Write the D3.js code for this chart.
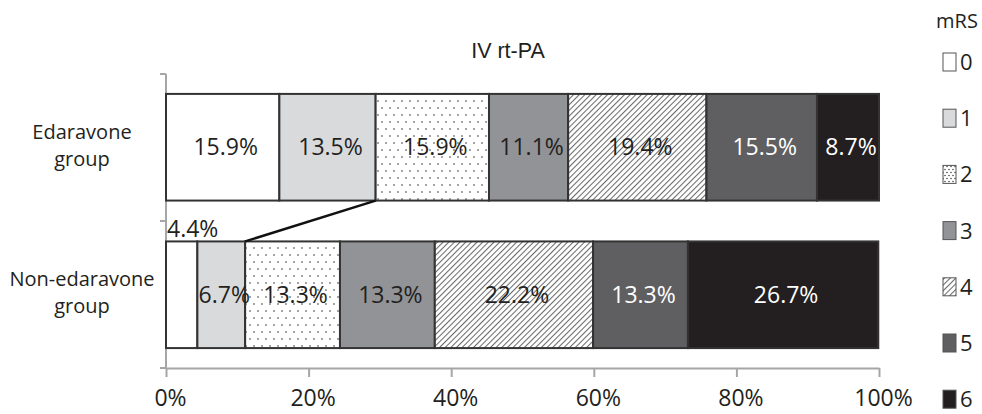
<!DOCTYPE html>
<html>
<head>
<meta charset="utf-8">
<script src="https://cdn.jsdelivr.net/npm/d3@7"></script>
<style>
  html, body { margin: 0; padding: 0; background: #fff; }
  svg { display: block; }
  text { font-family: "Open Sans", sans-serif; }
</style>
</head>
<body>
<svg id="chart" width="982" height="414"></svg>
<script>
// ---- data ----
const categories = ["Edaravone group", "Non-edaravone group"];
const categoryLines = [["Edaravone", "group"], ["Non-edaravone", "group"]];
const mrsLevels = ["0", "1", "2", "3", "4", "5", "6"];
const edaravoneValues = [15.9, 13.5, 15.9, 11.1, 19.4, 15.5, 8.7];
const nonEdaravoneValues = [4.4, 6.7, 13.3, 13.3, 22.2, 13.3, 26.7];
const xTicks = [0, 20, 40, 60, 80, 100];
const chartTitle = "IV rt-PA";
const legendTitle = "mRS";

const seriesValues = [edaravoneValues, nonEdaravoneValues];

// ---- styles ----
const fills = ["#ffffff", "#d9dadc", "url(#dots)", "#929396", "url(#hatch)", "#5f5f61", "#231f20"];
const textColors = ["#231f20", "#231f20", "#231f20", "#231f20", "#231f20", "#ffffff", "#ffffff"];

const svg = d3.select("#chart");
const defs = svg.append("defs");

// dotted pattern
const dots = defs.append("pattern").attr("id", "dots").attr("patternUnits", "userSpaceOnUse")
  .attr("width", 8).attr("height", 14);
dots.append("rect").attr("width", 8).attr("height", 14).attr("fill", "#fff");
dots.append("circle").attr("cx", 2).attr("cy", 3).attr("r", 0.8).attr("fill", "#333");
dots.append("circle").attr("cx", 6).attr("cy", 10).attr("r", 0.8).attr("fill", "#333");

// denser dots for legend swatch
const dotsL = defs.append("pattern").attr("id", "dotsL").attr("patternUnits", "userSpaceOnUse")
  .attr("width", 4).attr("height", 6);
dotsL.append("rect").attr("width", 4).attr("height", 6).attr("fill", "#fff");
dotsL.append("circle").attr("cx", 1).attr("cy", 1.5).attr("r", 0.7).attr("fill", "#222");
dotsL.append("circle").attr("cx", 3).attr("cy", 4.5).attr("r", 0.7).attr("fill", "#222");

// hatch pattern
const hatch = defs.append("pattern").attr("id", "hatch").attr("patternUnits", "userSpaceOnUse")
  .attr("width", 4).attr("height", 4).attr("patternTransform", "rotate(45)");
hatch.append("rect").attr("width", 4).attr("height", 4).attr("fill", "#fff");
hatch.append("line").attr("x1", 0.5).attr("y1", 0).attr("x2", 0.5).attr("y2", 4)
  .attr("stroke", "#6a6a6a").attr("stroke-width", 1.1);

const legendFills = fills.map(f => f === "url(#dots)" ? "url(#dotsL)" : f);

// ---- scales ----
const x = d3.scaleLinear().domain([0, 100]).range([166, 879]);
const y = d3.scaleBand().domain(categories).range([74, 368]).paddingInner(0.277).paddingOuter(0.135);

// ---- title ----
svg.append("text").attr("x", 508).attr("y", 58).attr("text-anchor", "middle")
  .style("font-family", "'Liberation Sans', Arial, sans-serif")
  .attr("font-size", 21.5).attr("fill", "#231f20").text(chartTitle);

// ---- x axis ----
const xAxis = d3.axisBottom(x).tickValues(xTicks).tickFormat(d => d + "%")
  .tickSize(9).tickSizeOuter(0);
const gx = svg.append("g").attr("transform", "translate(0,368)").call(xAxis);
gx.select(".domain").attr("stroke", "#a6a6a6").attr("stroke-width", 2);
gx.selectAll(".tick line").attr("stroke", "#a6a6a6").attr("stroke-width", 2);
gx.selectAll(".tick text").attr("font-size", 23).attr("fill", "#231f20")
  .attr("y", 38).attr("dy", 0).attr("dx", 4)
  .style("font-family", "'Open Sans', sans-serif");

// ---- y axis (boundary ticks) ----
const yAxisG = svg.append("g");
const [y0, y1] = y.range();
yAxisG.append("line").attr("x1", x(0)).attr("x2", x(0)).attr("y1", y0).attr("y2", y1)
  .attr("stroke", "#a6a6a6").attr("stroke-width", 2);
const boundaries = [y0, (y0 + y1) / 2, y1];
yAxisG.selectAll("line.tk").data(boundaries).join("line").attr("class", "tk")
  .attr("x1", x(0) - 6).attr("x2", x(0)).attr("y1", d => d).attr("y2", d => d)
  .attr("stroke", "#a6a6a6").attr("stroke-width", 2);

// category labels
categories.forEach((c, i) => {
  const cy = y(c) + y.bandwidth() / 2;
  const t = svg.append("text").attr("text-anchor", "middle").attr("font-size", 20)
    .attr("fill", "#231f20");
  categoryLines[i].forEach((ln, j) => {
    t.append("tspan").attr("x", 82).attr("y", cy + 5 + (j - 0.5) * 27).text(ln);
  });
});

// ---- bars ----
seriesValues.forEach((vals, si) => {
  const cat = categories[si];
  const cum = [0, ...d3.cumsum(vals)];
  const g = svg.append("g");
  const segs = vals.map((v, k) => ({ v, k, start: cum[k], end: cum[k + 1] }));
  g.selectAll("rect").data(segs).join("rect")
    .attr("x", d => x(d.start)).attr("width", d => x(d.end) - x(d.start))
    .attr("y", y(cat)).attr("height", y.bandwidth())
    .attr("fill", d => fills[d.k]).attr("stroke", "#333").attr("stroke-width", 2);
  g.selectAll("text").data(segs).join("text")
    .attr("x", d => {
      if (si === 1 && d.k === 0) return x(0) + 1;
      return (x(d.start) + x(d.end)) / 2 + 3;
    })
    .attr("y", d => (si === 1 && d.k === 0) ? y(cat) - 4 : y(cat) + y.bandwidth() / 2 + 8)
    .attr("text-anchor", d => (si === 1 && d.k === 0) ? "start" : "middle")
    .attr("font-size", 23)
    .attr("fill", d => (si === 1 && d.k === 0) ? "#231f20" : textColors[d.k])
    .text(d => d.v.toFixed(1) + "%");
});

// connector line between cumulative mRS 0-1
const cumE = d3.cumsum(edaravoneValues)[1];
const cumN = d3.cumsum(nonEdaravoneValues)[1];
svg.append("line")
  .attr("x1", x(cumE)).attr("y1", y(categories[0]) + y.bandwidth())
  .attr("x2", x(cumN)).attr("y2", y(categories[1]))
  .attr("stroke", "#111").attr("stroke-width", 2.5);

// ---- legend ----
svg.append("text").attr("x", 957).attr("y", 28).attr("text-anchor", "middle")
  .attr("font-size", 20).attr("fill", "#231f20").text(legendTitle);
const lg = svg.append("g");
mrsLevels.forEach((m, i) => {
  const cy = 62 + i * 56.2;
  lg.append("rect").attr("x", 943).attr("y", cy - 9).attr("width", 13).attr("height", 18)
    .attr("fill", legendFills[i]).attr("stroke", "#555").attr("stroke-width", 1);
  lg.append("text").attr("x", 960).attr("y", cy + 8).attr("font-size", 22)
    .attr("fill", "#231f20").text(m);
});
</script>
</body>
</html>
